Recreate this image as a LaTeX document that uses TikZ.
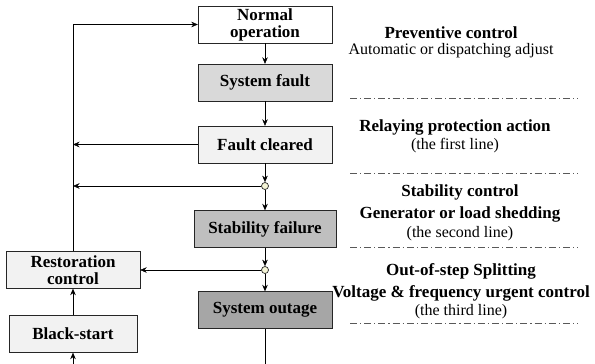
\documentclass[tikz,border=0pt]{standalone}
\usepackage{fontspec}
\setmainfont{Liberation Serif}
\usepackage{tikz}
\usetikzlibrary{positioning, arrows.meta}
\definecolor{boxlight}{HTML}{F2F2F2}
\definecolor{boxmid}{HTML}{D9D9D9}
\definecolor{boxdark}{HTML}{BFBFBF}
\definecolor{boxdeep}{HTML}{A6A6A6}
\definecolor{junfill}{HTML}{F4F4D6}
\tikzset{
>={Stealth[length=6.5pt, width=5.5pt]}, % arrow heads
line width=0.9pt, % all lines
every node/.style={font=\fontsize{17}{17}\selectfont\bfseries}, % bold box text
statebox/.style={draw=black!85, minimum width=134pt, minimum height=37pt, inner sep=0pt, align=center}, % flow boxes
junction/.style={circle, draw=black!85, fill=junfill, line width=0.7pt, minimum size=7pt, inner sep=0pt}, % branch points
stagetext/.style={align=center, inner sep=0pt, anchor=north, font=\fontsize{17}{21.5}\selectfont\bfseries}, % right hand texts
stageline/.style={draw=black!65, line width=0.8pt, dash pattern=on 7pt off 3pt on 1.2pt off 3pt}, % separators
}
\newcommand{\plain}{\fontsize{16}{21.5}\selectfont\mdseries}
\begin{document}
\begin{tikzpicture}[x=1pt, y=-1pt]
        \useasboundingbox (0,0) rectangle (595,364);

        % Main chain
        \node[statebox, fill=white] (Normal) at (265,24.5) {Normal\\operation};
        \node[statebox, fill=boxmid] (Fault) at (265,82.5) {System fault};
        \node[statebox, fill=boxlight] (Cleared) at (265,144.5) {Fault cleared};
        \node[junction] (J1) at (265,186) {};
        \node[statebox, fill=boxdark, minimum width=142pt] (Failure) at (265,229) {Stability failure};
        \node[junction] (J2) at (265,270) {};
        \node[statebox, fill=boxdeep] (Outage) at (265,310) {System outage};

        \draw[->] (Normal) -- (Fault);
        \draw[->] (Fault) -- (Cleared);
        \draw[->] (Cleared) -- (J1);
        \draw[->] (J1) -- (Failure);
        \draw[->] (Failure) -- (J2);
        \draw[->] (J2) -- (Outage);
        \coordinate (OutEnd) at (265,364);
        \draw (Outage) -- (OutEnd);

        % Restoration side
        \node[statebox, fill=boxlight] (Restore) at (73,270) {Restoration\\control};
        \node[statebox, fill=boxlight, minimum width=128pt] (Black) at (73,334) {Black-start};
        \coordinate (BlackIn) at (73,364);

        \draw[->] (BlackIn) -- (Black);
        \draw[->] (Black) -- (Restore);
        \draw[->] (Restore.north) |- (Normal.west);
        \draw[->] (Cleared.west) -- (Cleared.west -| Restore.north);
        \draw[->] (J1) -- (J1 -| Restore.north);
        \draw[->] (J2) -- (Restore.east);

        % Control stages
        \node[stagetext] (Prev) at (451,27) {Preventive control\\[-6pt]{\plain Automatic or dispatching adjust}};
        \node[stagetext] (Relay) at (455,119.5) {Relaying protection action\\[-3pt]{\plain (the first line)}};
        \node[stagetext] (Stab) at (460,185) {Stability control\\Generator or load shedding\\[-2pt]{\plain (the second line)}};
        \node[stagetext] (Split) at (461,263.5) {Out-of-step Splitting\\Voltage \& frequency urgent control\\[-3pt]{\plain (the third line)}};

        \coordinate (S1a) at (350,98);  \coordinate (S1b) at (578,98);
        \coordinate (S2a) at (350,173); \coordinate (S2b) at (578,173);
        \coordinate (S3a) at (350,247); \coordinate (S3b) at (578,247);
        \coordinate (S4a) at (350,323); \coordinate (S4b) at (578,323);
        \draw[stageline] (S1a) -- (S1b);
        \draw[stageline] (S2a) -- (S2b);
        \draw[stageline] (S3a) -- (S3b);
        \draw[stageline] (S4a) -- (S4b);
    \end{tikzpicture}
\end{document}
